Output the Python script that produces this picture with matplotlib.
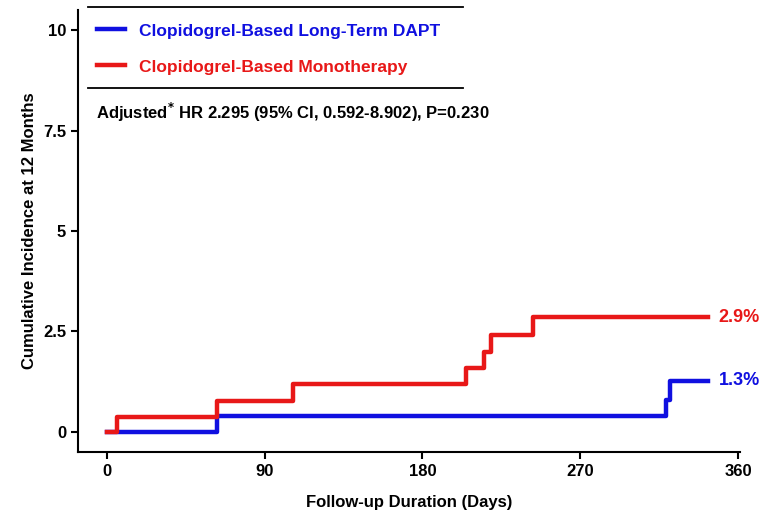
import matplotlib
matplotlib.use("Agg")
import matplotlib.pyplot as plt
from matplotlib.lines import Line2D

plt.rcParams["font.family"] = ["Liberation Sans", "DejaVu Sans"]
plt.rcParams["font.weight"] = "bold"

# step data (day, cumulative incidence %)
mono_days = [0, 6, 63, 106, 205, 215, 219, 243, 343]
mono_vals = [0, 0.37, 0.77, 1.18, 1.6, 2.0, 2.4, 2.85, 2.85]
dapt_days = [0, 63, 319, 321, 343]
dapt_vals = [0, 0.4, 0.8, 1.27, 1.27]

blue = "#1010e0"
red = "#e81818"

fig = plt.figure(figsize=(7.82, 5.26), dpi=100)
ax = fig.add_axes([0.0997, 0.1407, 0.8463, 0.8403])
ax.step(dapt_days, dapt_vals, where="post", color=blue, lw=3.2)
ax.step(mono_days, mono_vals, where="post", color=red, lw=3.2)
ax.set_xlim(-16.5, 361)
ax.set_ylim(-0.5, 10.5)
ax.set_xticks([0, 90, 180, 270, 360])
ax.set_yticks([0, 2.5, 5, 7.5, 10])
ax.set_yticklabels(["0", "2.5", "5", "7.5", "10"])
for s in ["top", "right"]:
    ax.spines[s].set_visible(False)
for s in ["left", "bottom"]:
    ax.spines[s].set_linewidth(1.5)
ax.tick_params(labelsize=12, width=1.5, length=5)
ax.set_xlabel("Follow-up Duration (Days)", fontsize=12, fontweight="bold", labelpad=12)
ax.set_ylabel("Cumulative Incidence at 12 Months", fontsize=12, fontweight="bold")

ax.text(349, mono_vals[-1], "2.9%", color=red, fontsize=13, fontweight="bold", va="center")
ax.text(349, dapt_vals[-1], "1.3%", color=blue, fontsize=13, fontweight="bold", va="center")

handles = [Line2D([], [], color=blue, lw=3.2), Line2D([], [], color=red, lw=3.2)]
leg = ax.legend(handles, ["Clopidogrel-Based Long-Term DAPT", "Clopidogrel-Based Monotherapy"],
                loc="upper left", bbox_to_anchor=(0.005, 1.005), frameon=False, fontsize=12.5,
                handlelength=1.6, labelspacing=1.2)
for t, c in zip(leg.get_texts(), [blue, red]):
    t.set_color(c)

# horizontal rules around legend
for yy in [10.58, 8.55]:
    ax.plot([-11, 203], [yy, yy], color="black", lw=1.3, clip_on=False)
ax.text(-6, 7.95, r"Adjusted$^{*}$ HR 2.295 (95% CI, 0.592-8.902), P=0.230",
        fontsize=12, fontweight="bold", va="center")

fig.savefig("out.png", dpi=100)
